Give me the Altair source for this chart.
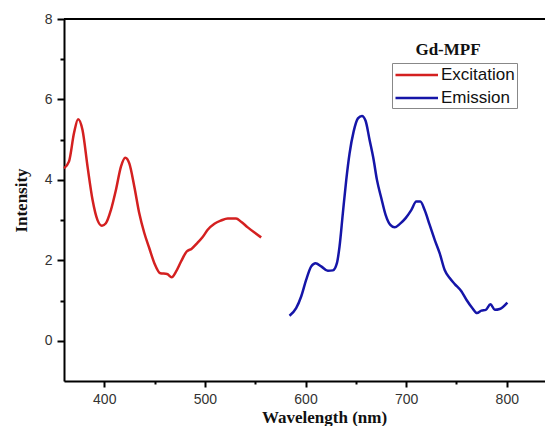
import altair as alt
import pandas as pd

exc_x = [360, 365, 370, 374, 378.4, 383.4, 388.4, 393.3, 397.7, 401.6, 406.6, 411.6, 416.6, 420.9,
         424.9, 429.9, 434.8, 439.8, 444.8, 449.8, 455.7, 462.4, 467, 471.3, 476.3, 481.9, 486.9,
         492.8, 497.8, 502.8, 509.5, 516.1, 522.7, 531, 536, 542.6, 549.3, 555.9]
exc_y = [4.29, 4.46, 5.17, 5.51, 5.24, 4.33, 3.50, 3.00, 2.86, 2.92, 3.25, 3.75, 4.33, 4.55,
         4.41, 3.83, 3.17, 2.68, 2.30, 1.93, 1.68, 1.66, 1.58, 1.72, 1.97, 2.22, 2.29,
         2.44, 2.58, 2.76, 2.91, 2.99, 3.04, 3.04, 2.96, 2.82, 2.69, 2.57]

em_x = [584.1, 590.7, 595.7, 600.7, 605.7, 610, 615.6, 622.2, 627.2, 631.2, 633.8, 637.1, 640.5,
        643.8, 647.8, 652.1, 656.1, 659.7, 663.7, 667.7, 671, 675.3, 679.6, 684.3, 688.6, 693.5,
        699.5, 705.1, 710.1, 714.1, 718.4, 723.4, 728.4, 733.3, 738.3, 743.3, 748.3, 754.9, 759.9,
        765.9, 770.4, 774.8, 779.1, 783.8, 788.1, 793, 800.6]
em_y = [0.62, 0.81, 1.10, 1.52, 1.85, 1.93, 1.85, 1.74, 1.75, 1.93, 2.34, 3.17, 4.00,
        4.66, 5.20, 5.53, 5.59, 5.47, 4.99, 4.50, 4.00, 3.55, 3.13, 2.88, 2.82, 2.90,
        3.05, 3.25, 3.46, 3.46, 3.25, 2.88, 2.51, 2.18, 1.76, 1.56, 1.41, 1.23, 1.02,
        0.81, 0.69, 0.75, 0.77, 0.91, 0.77, 0.79, 0.95]

series_names = ["Excitation", "Emission"]
series_colors = ["#d42020", "#1515a8"]
legend_title = ["Gd-MPF"]
x_ticks = [400, 450, 500, 550, 600, 650, 700, 750, 800]
y_ticks = [0, 1, 2, 3, 4, 5, 6, 7, 8]

W, H = 481, 362

df = pd.concat([
    pd.DataFrame({"Wavelength": exc_x, "Intensity": exc_y, "Series": series_names[0]}),
    pd.DataFrame({"Wavelength": em_x, "Intensity": em_y, "Series": series_names[1]}),
])

x_axis = alt.Axis(
    values=x_ticks, title="Wavelength (nm)",
    titleFont="Liberation Serif", titleFontSize=17, titleFontWeight="bold", titleColor="#111",
    labelFont="Liberation Sans", labelFontSize=14, labelColor="#333", labelFlush=False,
    labelExpr="datum.value % 100 === 0 ? datum.label : ''",
    tickSize={"condition": {"test": "datum.value % 100 === 0", "value": 6}, "value": 3},
    tickWidth=2, tickColor="black", domainColor="black", domainWidth=2, grid=False,
    labelPadding=5, titlePadding=3, titleX=260,
)
y_axis = alt.Axis(
    values=y_ticks, title="Intensity",
    titleFont="Liberation Serif", titleFontSize=17, titleFontWeight="bold", titleColor="#111",
    labelFont="Liberation Sans", labelFontSize=14, labelColor="#333", labelFlush=False,
    labelExpr="datum.value % 2 === 0 ? datum.label : ''",
    tickSize={"condition": {"test": "datum.value % 2 === 0", "value": 7}, "value": 4},
    tickWidth=2, tickColor="black", domainColor="black", domainWidth=2, grid=False,
    labelPadding=5, titlePadding=14,
)

lines = alt.Chart(df).mark_line(strokeWidth=2.5, interpolate="monotone").encode(
    x=alt.X("Wavelength:Q", scale=alt.Scale(domain=[360, 838], nice=False, zero=False), axis=x_axis),
    y=alt.Y("Intensity:Q", scale=alt.Scale(domain=[-1, 8], nice=False), axis=y_axis),
    color=alt.Color("Series:N", sort=series_names,
                    scale=alt.Scale(domain=series_names, range=series_colors),
                    legend=alt.Legend(orient="none", legendX=328, legendY=44, title=None,
                                      strokeColor="#888", fillColor="white", padding=2,
                                      symbolType="M-1,0H4", symbolSize=289, symbolStrokeWidth=2.5,
                                      labelFont="Liberation Sans", labelFontSize=17,
                                      labelColor="#111", rowPadding=5, labelOffset=27)),
)

top_line = alt.Chart(pd.DataFrame({"t": legend_title})).mark_rule(
    color="black", strokeWidth=2
).encode(x=alt.value(0), x2=alt.value(W), y=alt.value(0))

title_text = alt.Chart(pd.DataFrame({"t": legend_title})).mark_text(
    font="Liberation Serif", fontSize=17, fontWeight="bold", color="#111",
    align="center", baseline="alphabetic",
).encode(x=alt.value(384), y=alt.value(36), text="t:N")

chart = alt.layer(lines, top_line, title_text).properties(
    width=W, height=H,
    autosize=alt.AutoSizeParams(type="none"),
    padding={"left": 56, "top": 11, "right": 0, "bottom": 45},
).configure_view(stroke=None).configure(background="white")

chart.save("out.html", embed_options={"renderer": "svg", "actions": False})
